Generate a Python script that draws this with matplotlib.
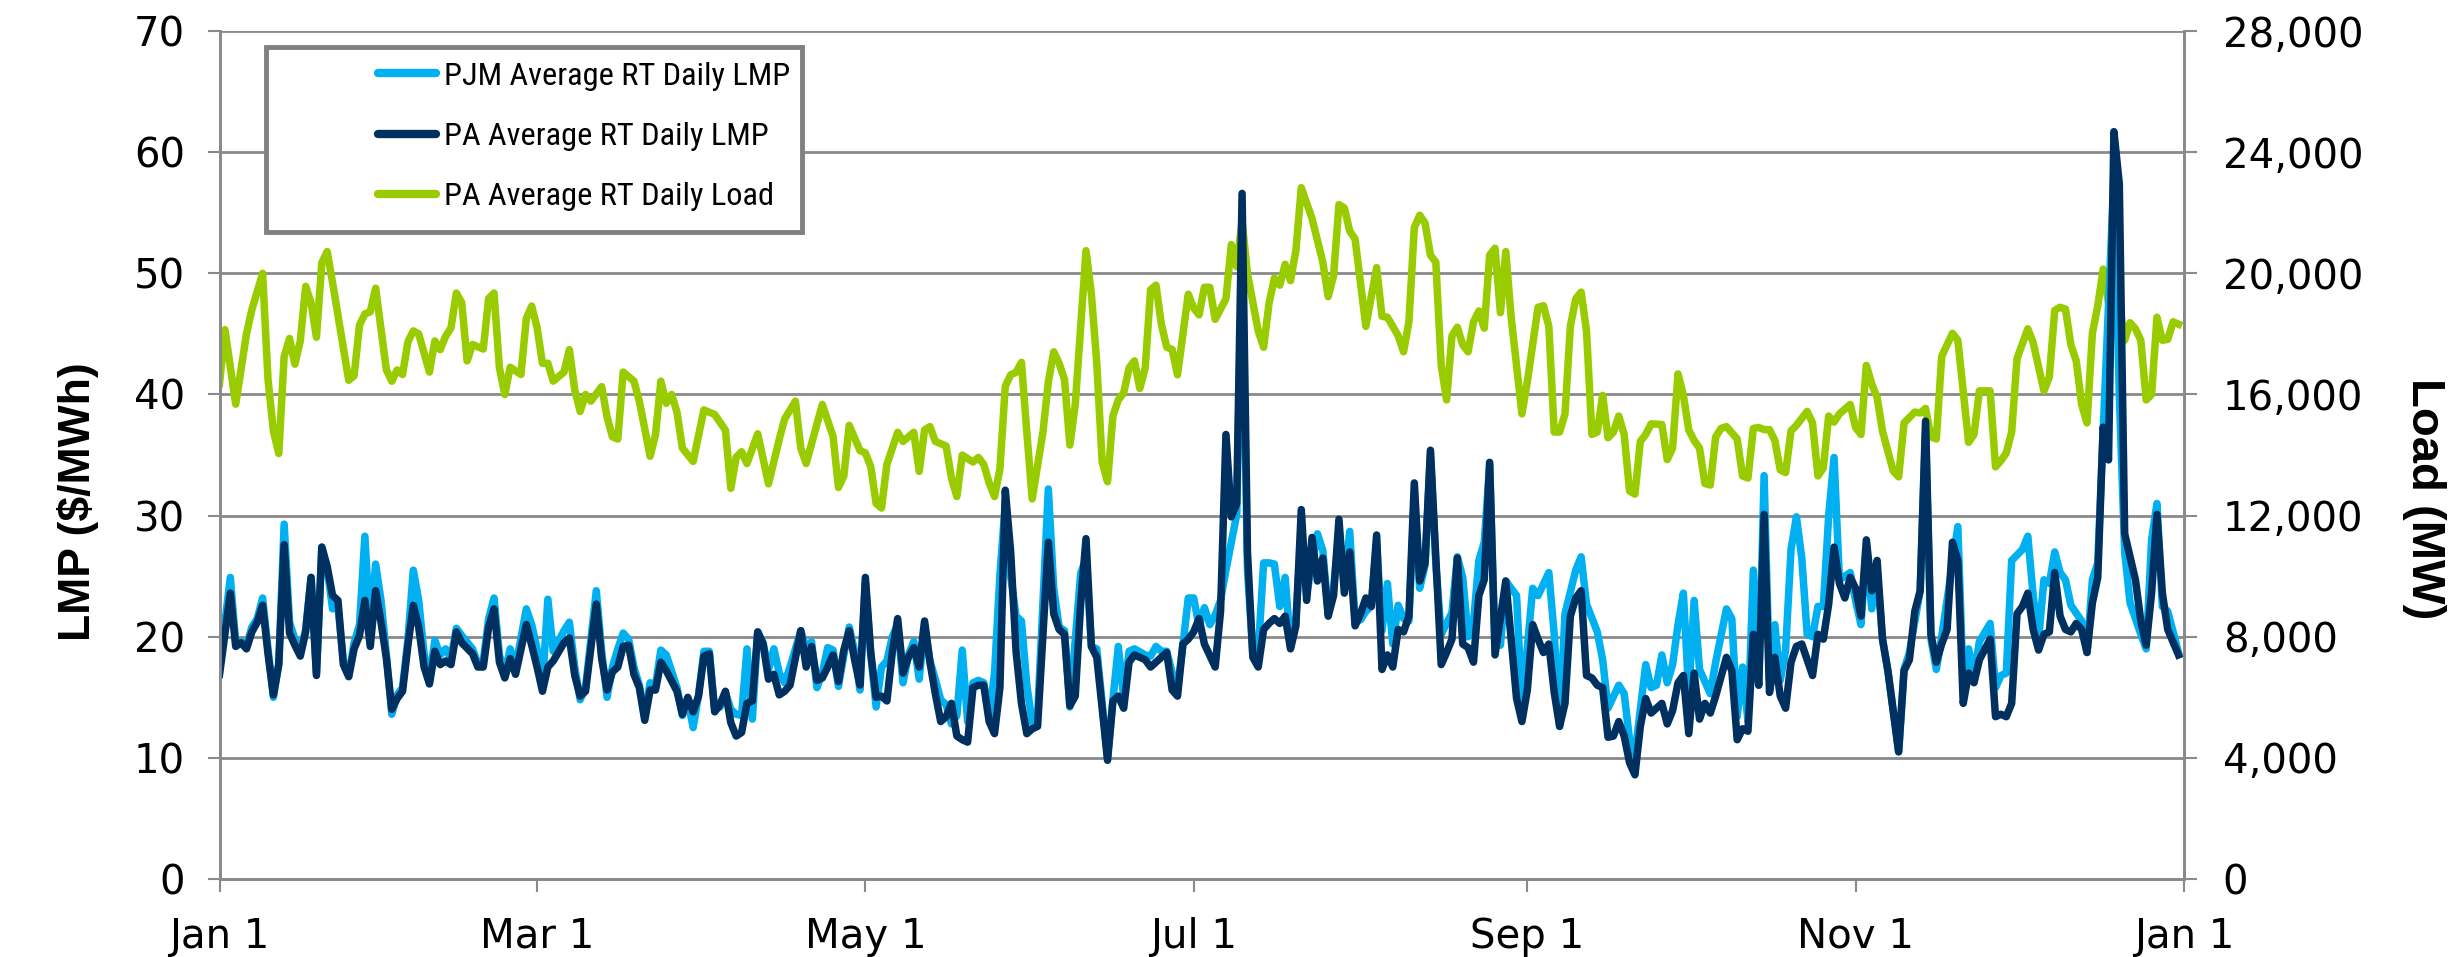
import matplotlib
matplotlib.use("Agg")
import matplotlib.pyplot as plt
import matplotlib.dates as mdates
from matplotlib import font_manager
from matplotlib.patches import Rectangle
from matplotlib.ticker import FuncFormatter, MultipleLocator
import numpy as np
import pandas as pd

plt.rcParams['font.family'] = ['Liberation Sans', 'DejaVu Sans']

# day of year (0 = Jan 1) and value
pa_days = [0, 2, 3, 4, 5, 6, 7, 8, 9, 10, 11, 12, 13, 14, 15, 16, 17, 18, 19, 20, 21, 22, 23, 24, 25, 26, 27, 28, 29, 30,
           31, 32, 33, 34, 35, 36, 37, 38, 39, 40, 41, 42, 43, 44, 45, 47, 48, 49, 50, 51, 52, 53, 54, 55, 57, 58, 59, 60, 61, 62,
           64, 65, 66, 67, 68, 70, 71, 72, 73, 74, 75, 76, 77, 78, 79, 80, 81, 82, 83, 85, 86, 87, 88, 89, 90, 91, 92, 93, 94, 95,
           96, 97, 98, 99, 100, 101, 102, 103, 104, 105, 106, 108, 109, 110, 111, 112, 113, 114, 115, 116, 117, 118, 119, 120, 121, 122, 123, 124, 125, 126,
           127, 128, 129, 130, 131, 132, 133, 134, 135, 136, 137, 138, 139, 140, 141, 142, 143, 144, 145, 146, 147, 148, 149, 150, 151, 152, 154, 155, 156, 157,
           158, 159, 160, 161, 162, 163, 164, 165, 166, 167, 168, 169, 170, 172, 173, 174, 176, 177, 178, 179, 180, 181, 182, 183, 185, 186, 187, 188, 189, 190,
           191, 192, 193, 194, 195, 196, 197, 198, 199, 200, 201, 202, 203, 204, 205, 206, 207, 208, 209, 210, 211, 212, 213, 214, 215, 216, 217, 218, 219, 220,
           221, 222, 223, 224, 225, 227, 228, 229, 230, 231, 232, 233, 234, 235, 236, 237, 239, 240, 241, 242, 243, 244, 245, 246, 247, 248, 249, 250, 251, 252,
           253, 254, 255, 256, 257, 258, 259, 260, 261, 262, 263, 264, 265, 266, 268, 269, 270, 271, 272, 273, 274, 275, 276, 277, 278, 280, 281, 282, 283, 284,
           285, 286, 287, 288, 289, 290, 291, 292, 293, 294, 295, 296, 297, 298, 299, 300, 301, 302, 303, 304, 305, 306, 307, 308, 309, 310, 312, 313, 314, 315,
           316, 317, 318, 319, 320, 321, 322, 323, 324, 325, 326, 327, 329, 330, 331, 332, 333, 334, 335, 336, 337, 338, 339, 340, 341, 342, 343, 344, 345, 346,
           347, 348, 349, 350, 351, 352, 353, 354, 356, 357, 358, 359, 360, 361, 362, 364]
pa_lmp = [16.9, 23.6, 19.2, 19.5, 19.0, 20.4, 21.2, 22.6, 18.6, 15.2, 17.7, 27.6, 20.3, 19.3, 18.4, 20.4, 24.9, 16.8, 27.4, 25.8, 23.4, 23.0, 17.7, 16.7, 19.0, 20.1, 23.0, 19.2, 23.8, 21.2,
          18.2, 14.0, 14.9, 15.5, 19.3, 22.6, 20.8, 17.5, 16.1, 18.8, 17.7, 18.0, 17.7, 20.4, 19.5, 18.6, 17.5, 17.5, 20.8, 22.3, 17.9, 16.6, 18.2, 16.9, 21.0, 19.3, 17.5, 15.5, 17.5, 18.0,
          19.5, 19.9, 16.8, 15.1, 15.5, 22.7, 18.2, 15.6, 17.1, 17.5, 19.2, 19.3, 16.9, 15.8, 13.1, 15.6, 15.6, 17.9, 17.2, 15.5, 13.6, 15.0, 13.8, 15.1, 18.4, 18.6, 13.8, 14.4, 15.5, 12.9,
          11.8, 12.1, 14.5, 14.7, 20.4, 19.4, 16.5, 16.9, 15.2, 15.5, 16.0, 20.5, 17.5, 19.2, 16.4, 16.6, 17.5, 18.5, 16.3, 18.9, 20.5, 18.1, 16.0, 24.9, 18.7, 15.0, 15.1, 14.7, 18.7, 21.5,
          17.0, 18.3, 19.1, 17.5, 21.3, 17.9, 15.3, 13.0, 13.4, 14.5, 11.8, 11.5, 11.3, 15.8, 16.0, 16.0, 13.0, 12.0, 15.8, 32.1, 27.0, 18.8, 14.5, 12.0, 12.4, 12.6, 27.8, 21.9, 20.6, 20.2,
          14.3, 15.1, 22.7, 28.1, 19.2, 18.3, 14.1, 9.8, 14.7, 15.1, 14.1, 17.9, 18.5, 18.1, 17.5, 17.9, 18.7, 15.6, 15.1, 19.4, 19.8, 20.4, 21.5, 19.4, 17.5, 22.1, 36.7, 29.9, 31.0, 56.6,
          27.0, 18.3, 17.5, 20.6, 21.1, 21.5, 21.1, 21.7, 19.0, 20.9, 30.5, 23.0, 28.2, 24.6, 26.5, 21.7, 23.4, 29.7, 23.6, 27.0, 20.9, 21.9, 23.2, 22.5, 28.4, 17.3, 18.5, 17.5, 20.6, 20.4,
          21.7, 32.7, 24.6, 26.1, 35.4, 17.7, 18.7, 19.8, 26.5, 19.4, 19.1, 17.9, 23.4, 24.7, 34.4, 18.5, 24.6, 19.8, 14.9, 13.0, 15.6, 21.0, 19.8, 18.7, 19.4, 15.4, 12.6, 14.5, 21.7, 23.2,
          23.8, 16.8, 16.6, 16.0, 15.8, 11.7, 11.8, 13.0, 11.8, 9.6, 8.6, 12.6, 14.9, 13.7, 14.5, 12.8, 13.9, 16.2, 16.8, 12.0, 17.0, 13.2, 14.5, 13.7, 15.1, 18.3, 17.2, 11.5, 12.4, 12.2,
          20.2, 16.0, 30.1, 15.4, 18.3, 15.1, 14.1, 17.9, 19.2, 19.4, 18.1, 16.8, 20.2, 19.8, 22.7, 27.4, 24.4, 23.2, 24.9, 24.0, 21.7, 28.0, 23.8, 26.3, 19.8, 17.2, 10.5, 17.2, 18.1, 22.1,
          23.8, 37.8, 20.2, 17.9, 19.4, 20.6, 27.8, 26.3, 14.5, 17.0, 16.2, 18.1, 19.8, 13.4, 13.6, 13.4, 14.5, 21.9, 22.5, 23.6, 20.6, 18.9, 20.2, 20.4, 25.3, 21.7, 20.6, 20.4, 21.1, 20.6,
          18.7, 22.8, 24.9, 37.3, 34.6, 61.7, 57.4, 28.5, 24.7, 21.3, 19.3, 23.6, 30.1, 23.6, 20.6, 18.5]

pjm_days = [0, 2, 3, 4, 5, 6, 7, 8, 9, 10, 11, 12, 13, 14, 15, 16, 17, 18, 19, 20, 21, 22, 23, 24, 25, 26, 27, 28, 29, 30,
            31, 32, 33, 34, 35, 36, 37, 38, 39, 40, 41, 42, 43, 44, 45, 47, 48, 49, 50, 51, 52, 53, 54, 55, 57, 58, 59, 60, 61, 62,
            64, 65, 66, 67, 68, 70, 71, 72, 73, 74, 75, 76, 77, 78, 79, 80, 81, 82, 83, 85, 86, 87, 88, 89, 90, 91, 92, 93, 94, 95,
            96, 97, 98, 99, 100, 101, 102, 103, 104, 105, 106, 108, 109, 110, 111, 112, 113, 114, 115, 116, 117, 118, 119, 120, 121, 122, 123, 124, 125, 126,
            127, 128, 129, 130, 131, 132, 133, 134, 135, 136, 137, 138, 139, 140, 141, 142, 143, 144, 145, 146, 147, 148, 149, 150, 151, 152, 154, 155, 156, 157,
            158, 160, 161, 162, 163, 164, 165, 166, 167, 168, 169, 170, 172, 173, 174, 175, 176, 177, 178, 179, 180, 181, 182, 183, 184, 185, 186, 187, 188, 189,
            190, 191, 192, 193, 194, 195, 196, 197, 198, 199, 200, 201, 202, 203, 204, 205, 206, 207, 208, 209, 210, 211, 212, 213, 214, 215, 216, 217, 218, 219,
            220, 221, 222, 223, 224, 225, 226, 227, 228, 229, 230, 231, 232, 233, 234, 235, 236, 237, 238, 239, 241, 242, 243, 244, 245, 247, 248, 249, 250, 252,
            253, 254, 256, 257, 258, 260, 261, 262, 263, 265, 266, 267, 268, 269, 270, 271, 272, 273, 274, 275, 277, 278, 280, 281, 282, 283, 284, 285, 286, 287,
            288, 289, 290, 291, 292, 293, 294, 295, 296, 297, 298, 299, 300, 301, 303, 304, 305, 306, 307, 308, 309, 310, 312, 313, 314, 316, 317, 318, 319, 320,
            322, 323, 324, 325, 326, 327, 329, 330, 331, 332, 333, 335, 336, 337, 338, 339, 340, 341, 342, 343, 344, 346, 347, 348, 349, 350, 352, 353, 354, 355,
            357, 358, 359, 360, 361, 362, 364]
pjm_lmp = [17.5, 24.9, 19.5, 19.6, 19.3, 20.8, 21.5, 23.2, 19.0, 15.0, 17.8, 29.3, 21.2, 19.8, 18.8, 20.6, 24.9, 17.0, 27.4, 25.6, 22.3, 22.5, 18.0, 16.8, 19.5, 21.0, 28.3, 20.5, 26.0, 23.0,
           18.5, 13.6, 15.2, 15.8, 19.8, 25.5, 23.0, 18.6, 16.5, 19.7, 18.5, 19.0, 18.2, 20.7, 20.1, 19.0, 17.8, 18.0, 21.5, 23.2, 18.5, 17.0, 19.0, 17.5, 22.3, 21.0, 19.0, 16.0, 23.1, 18.8,
           20.5, 21.2, 17.5, 14.8, 15.8, 23.8, 18.8, 15.0, 17.5, 19.0, 20.3, 19.8, 17.5, 16.0, 13.5, 16.2, 16.0, 18.9, 18.5, 15.8, 13.5, 14.8, 12.5, 15.2, 18.8, 18.8, 14.0, 14.2, 15.4, 14.0,
           13.6, 13.5, 19.0, 13.2, 20.4, 19.5, 17.3, 19.0, 17.0, 16.2, 17.5, 20.5, 19.0, 19.6, 15.8, 17.0, 19.1, 18.9, 15.9, 18.5, 20.8, 18.8, 15.6, 24.5, 18.5, 14.2, 17.5, 18.0, 20.0, 21.0,
           16.2, 18.5, 19.6, 16.5, 20.8, 18.0, 16.5, 14.8, 14.4, 12.8, 13.5, 18.9, 13.0, 16.2, 16.4, 16.2, 13.4, 17.0, 25.1, 31.0, 25.0, 21.7, 21.3, 16.0, 12.9, 13.5, 32.2, 24.0, 20.8, 20.5,
           14.2, 25.2, 26.5, 19.2, 19.0, 14.5, 10.0, 14.8, 19.2, 15.0, 18.8, 19.0, 18.5, 18.4, 19.2, 18.8, 18.8, 17.0, 15.8, 19.3, 23.2, 23.2, 20.9, 22.4, 21.0, 21.8, 23.0, 25.5, 27.8, 30.1,
           52.0, 25.5, 18.6, 18.7, 26.1, 26.1, 26.0, 22.5, 24.9, 19.1, 21.5, 28.5, 23.5, 26.1, 28.5, 27.1, 22.0, 24.0, 28.6, 24.5, 28.7, 21.3, 21.4, 22.1, 22.5, 27.8, 20.5, 24.4, 19.4, 22.6,
           21.5, 21.3, 31.5, 24.0, 25.9, 35.2, 26.0, 20.2, 21.1, 22.0, 26.6, 24.9, 20.0, 21.2, 26.3, 27.8, 34.2, 19.4, 19.3, 24.6, 23.4, 14.5, 19.1, 24.0, 23.4, 25.3, 20.2, 12.6, 21.9, 25.5,
           26.6, 22.7, 20.4, 18.1, 14.1, 16.0, 15.3, 11.5, 10.3, 17.7, 15.8, 16.0, 18.5, 16.2, 17.7, 21.0, 23.6, 15.3, 23.0, 17.3, 15.3, 17.9, 22.3, 21.5, 13.4, 17.5, 13.0, 25.5, 16.0, 33.3,
           16.4, 21.0, 16.4, 18.9, 27.2, 29.9, 26.5, 20.2, 20.0, 22.5, 22.5, 30.0, 34.8, 24.7, 25.3, 23.0, 21.0, 27.4, 22.3, 25.5, 19.8, 17.2, 10.5, 17.3, 18.7, 23.8, 36.9, 19.8, 17.3, 20.0,
           26.1, 29.1, 16.0, 19.0, 16.8, 19.6, 21.1, 15.8, 16.8, 17.0, 26.3, 27.2, 28.3, 23.4, 19.8, 24.7, 24.4, 27.0, 25.3, 24.7, 22.6, 21.3, 18.7, 24.7, 26.1, 36.9, 58.0, 40.0, 27.0, 22.8,
           20.2, 19.0, 28.0, 31.0, 22.5, 22.1, 18.7]

load_days = [0, 1, 3, 5, 6, 8, 9, 10, 11, 12, 13, 14, 15, 16, 17, 18, 19, 20, 21, 24, 25, 26, 27, 28, 29, 31, 32, 33, 34, 35,
             36, 37, 39, 40, 41, 42, 43, 44, 45, 46, 47, 49, 50, 51, 52, 53, 54, 56, 57, 58, 59, 60, 61, 62, 64, 65, 66, 67, 68, 69,
             71, 72, 73, 74, 75, 77, 78, 80, 81, 82, 83, 84, 85, 86, 88, 90, 92, 94, 95, 96, 97, 98, 100, 102, 104, 105, 107, 108, 109, 112,
             114, 115, 116, 117, 119, 120, 121, 122, 123, 124, 126, 127, 129, 130, 131, 132, 133, 135, 136, 137, 138, 140, 141, 142, 143, 144, 145, 146, 147, 148,
             149, 150, 151, 153, 154, 155, 156, 157, 158, 159, 161, 162, 163, 164, 165, 166, 167, 168, 169, 170, 171, 172, 173, 174, 175, 176, 177, 178, 180, 181,
             182, 183, 184, 185, 187, 188, 189, 190, 191, 193, 194, 195, 196, 197, 198, 199, 200, 201, 203, 205, 206, 207, 208, 209, 210, 211, 213, 215, 216, 217,
             218, 219, 220, 221, 222, 223, 224, 225, 226, 227, 228, 229, 230, 231, 232, 233, 234, 235, 236, 237, 238, 239, 240, 242, 243, 245, 246, 247, 248, 249,
             250, 251, 252, 253, 254, 255, 256, 257, 258, 259, 260, 261, 262, 263, 264, 265, 266, 268, 269, 270, 271, 272, 273, 274, 275, 276, 277, 278, 279, 280,
             282, 283, 284, 285, 286, 287, 288, 289, 290, 291, 292, 293, 294, 295, 296, 297, 298, 299, 300, 301, 303, 304, 305, 306, 307, 308, 309, 311, 312, 313,
             315, 316, 317, 318, 319, 320, 322, 323, 325, 326, 327, 329, 330, 331, 332, 333, 334, 336, 337, 339, 340, 341, 342, 343, 344, 345, 346, 347, 348, 349,
             350, 351, 352, 353, 354, 355, 356, 357, 358, 359, 360, 361, 362, 363, 364]
load_mw = [16370, 18140, 15680, 18000, 18800, 20000, 16500, 14800, 14050, 17250, 17850, 17000, 17770, 19570, 19030, 17890, 20350, 20720, 19690, 16470, 16620, 18290, 18660, 18730, 19510, 16810, 16440, 16810, 16660, 17740,
           18100, 18000, 16740, 17770, 17480, 17920, 18200, 19350, 19030, 17110, 17650, 17500, 19170, 19350, 16880, 16000, 16900, 16660, 18510, 18920, 18210, 17030, 17030, 16440, 16740, 17480, 16150, 15440, 16000, 15780,
           16260, 15260, 14600, 14530, 16740, 16440, 15780, 13960, 14670, 16440, 15710, 16000, 15410, 14230, 13790, 15490, 15340, 14820, 12900, 13930, 14110, 13720, 14700, 13050, 14520, 15190, 15780, 14230, 13720, 15670,
           14610, 12930, 13310, 14980, 14150, 14070, 13620, 12400, 12250, 13690, 14750, 14450, 14750, 13460, 14830, 14940, 14450, 14300, 13240, 12630, 14000, 13770, 13920, 13690, 13080, 12630, 13540, 16270, 16650, 16730,
           17060, 14760, 12550, 14760, 16420, 17410, 17030, 16500, 14330, 15670, 20750, 19310, 17030, 13770, 13120, 15290, 15820, 16050, 16880, 17110, 16200, 16880, 19460, 19610, 18320, 17560, 17490, 16650, 19310, 18860,
           18630, 19540, 19540, 18480, 19160, 20950, 20220, 21740, 19990, 18100, 17560, 19000, 19840, 19610, 20300, 19760, 20750, 22830, 21810, 20370, 19230, 19920, 22270, 22160, 21400, 21130, 18250, 20190, 18580, 18550,
           18250, 17940, 17410, 18400, 21510, 21920, 21660, 20600, 20370, 16960, 15820, 17940, 18220, 17640, 17410, 18400, 18760, 18190, 20600, 20830, 18700, 20720, 18550, 15360, 16420, 18880, 18930, 18250, 14760, 14760,
           15360, 18250, 19160, 19380, 18100, 14680, 14760, 15970, 14570, 14760, 15290, 14680, 12810, 12710, 14450, 14680, 15030, 15010, 13850, 14230, 16680, 15970, 14830, 14480, 14230, 13060, 13010, 14600, 14880, 14940,
           14530, 13310, 13240, 14880, 14910, 14840, 14840, 14480, 13510, 13420, 14800, 14980, 15210, 15440, 15060, 13310, 13570, 15290, 15090, 15360, 15670, 14910, 14680, 16960, 16350, 15900, 14790, 13470, 13280, 15060,
           15420, 15390, 15540, 14600, 14530, 17260, 18020, 17790, 14420, 14680, 16120, 16120, 13610, 13810, 14070, 14760, 17190, 18170, 17710, 16120, 16580, 18780, 18880, 18820, 17640, 17110, 15670, 15060, 18020, 18930,
           20140, 19010, 19430, 19010, 17790, 18370, 18170, 17790, 15820, 16000, 18550, 17790, 17820, 18400, 18320]

start = pd.Timestamp('2019-01-01')
pa_dates = start + pd.to_timedelta(pa_days, unit='D')
pjm_dates = start + pd.to_timedelta(pjm_days, unit='D')
load_dates = start + pd.to_timedelta(load_days, unit='D')

GRID = '#8a8a8a'
C_PJM = '#00b0f0'
C_PA = '#00305f'
C_LOAD = '#99cc00'
LW = 5.4

# legend font is a narrow sans in the original; use one if it is installed
names = {f.name for f in font_manager.fontManager.ttflist}
leg_font = dict(family='Liberation Sans', size=20.5)
for cand in ['Liberation Sans Narrow', 'Roboto Condensed', 'Open Sans Condensed',
             'Noto Sans Condensed', 'DejaVu Sans Condensed']:
    if cand in names:
        leg_font = dict(family=cand, size=23.3)
        break
fs_px = leg_font['size'] * 100 / 72
row_gap = (62.7 - 0.97 * fs_px) / fs_px

fig = plt.figure(figsize=(24.56, 9.57), dpi=100)
ax = fig.add_axes([0.0894, 0.0815, 0.7998, 0.886])
ax2 = ax.twinx()
# blue lines sit above the load line, grid below everything
ax.set_zorder(2)
ax2.set_zorder(1)
ax.patch.set_visible(False)

l_load, = ax2.plot(load_dates, load_mw, color=C_LOAD, lw=LW, solid_joinstyle='round',
                   label='PA Average RT Daily Load')
l_pjm, = ax.plot(pjm_dates, pjm_lmp, color=C_PJM, lw=LW, solid_joinstyle='round',
                 label='PJM Average RT Daily LMP')
l_pa, = ax.plot(pa_dates, pa_lmp, color=C_PA, lw=LW, solid_joinstyle='round',
                label='PA Average RT Daily LMP')

ax.set_ylim(0, 70)
ax2.set_ylim(0, 28000)
ax.yaxis.set_major_locator(MultipleLocator(10))
ax2.yaxis.set_major_locator(MultipleLocator(4000))
ax2.yaxis.set_major_formatter(FuncFormatter(lambda v, p: f'{int(v):,}'))
ax.set_xlim(start, pd.Timestamp('2020-01-01'))
ax.xaxis.set_major_locator(mdates.MonthLocator(bymonth=[1, 3, 5, 7, 9, 11]))
ax.xaxis.set_major_formatter(FuncFormatter(
    lambda v, p: f'{mdates.num2date(v):%b} {mdates.num2date(v).day}'))

ax2.grid(axis='y', color=GRID, lw=2)
ax2.set_axisbelow(True)

for a in (ax, ax2):
    for s in a.spines.values():
        s.set_color(GRID)
        s.set_linewidth(2)
    a.spines['top'].set_visible(False)
    a.tick_params(colors=GRID, labelcolor='black', labelsize=29, width=1.5,
                  length=9)
    for lab in a.get_xticklabels() + a.get_yticklabels():
        lab.set_family('DejaVu Sans')
ax.tick_params(axis='y', pad=16)
ax2.tick_params(axis='y', pad=19)
ax.tick_params(axis='x', pad=18)

ax.set_ylabel('LMP ($/MWh)', fontsize=32, fontweight='bold', va='center')
ax.yaxis.set_label_coords(-0.072, 0.445)
ax2.set_ylabel('Load (MW)', fontsize=34, fontweight='bold', rotation=270,
               va='center')
ax2.yaxis.set_label_coords(1.122, 0.448)

# legend box drawn separately: entries sit right of centre in the original frame
box = Rectangle((0.0237, 0.763), 0.2728, 0.218, transform=ax.transAxes,
                facecolor='white', edgecolor='#808080', lw=3.5, zorder=5,
                clip_on=False)
ax.add_patch(box)
leg = ax.legend(handles=[l_pjm, l_pa, l_load], loc='upper left',
                bbox_to_anchor=(0.0805, 0.964), prop=leg_font, frameon=False,
                handlelength=1.8, handletextpad=0.25, labelspacing=row_gap,
                borderpad=0, borderaxespad=0)
leg.set_zorder(6)
for h in leg.get_lines():
    h.set_linewidth(6)
    h.set_solid_capstyle('round')

fig.savefig('out.png', dpi=100)
